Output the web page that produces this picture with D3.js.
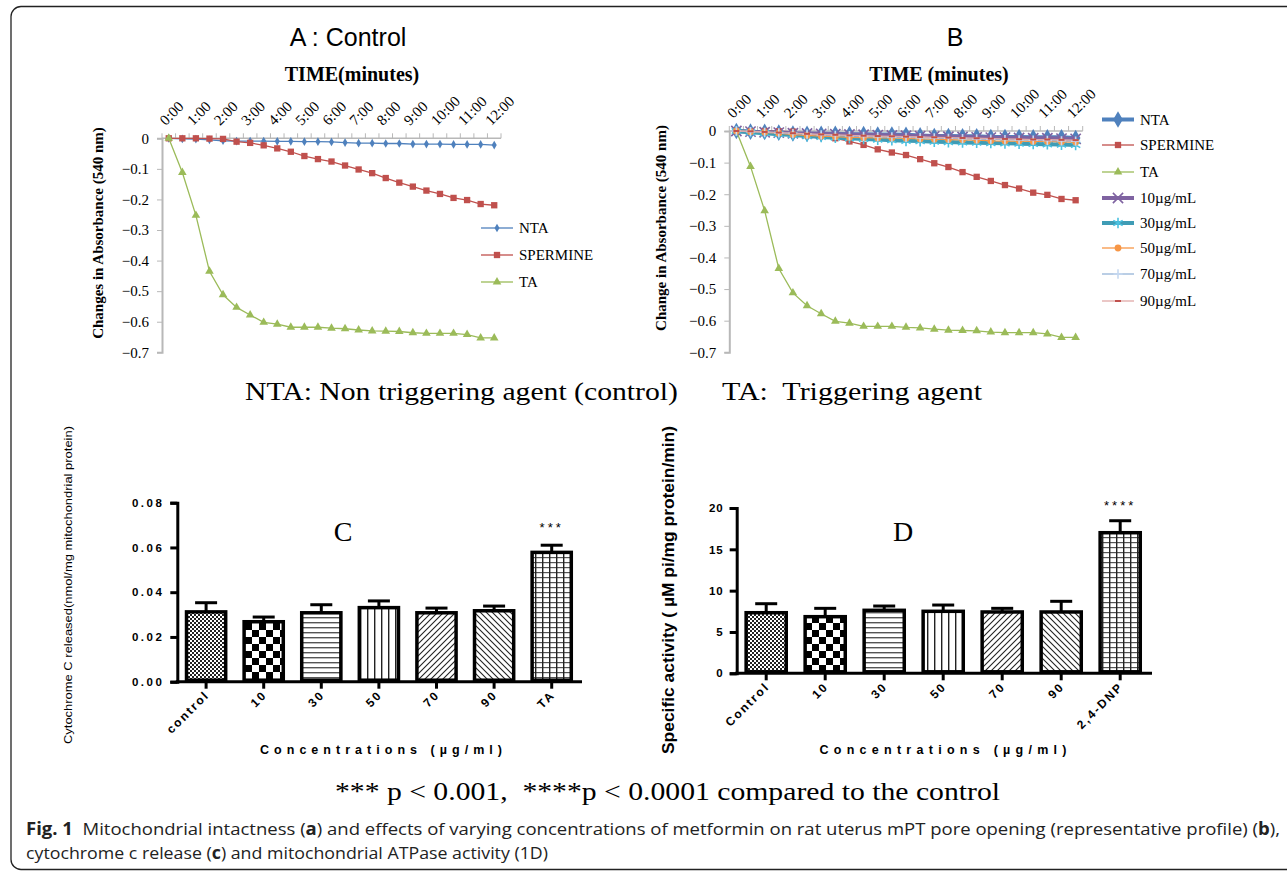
<!DOCTYPE html>
<html>
<head>
<meta charset="utf-8">
<script src="https://cdn.jsdelivr.net/npm/d3@7"></script>
<style>
  body { margin: 0; background: #fff; }
  text { white-space: pre; }
</style>
</head>
<body>
<div id="fig"></div>
<script>
// ---- data ----
var timePoints = ["0:00","0:30","1:00","1:30","2:00","2:30","3:00","3:30","4:00","4:30","5:00","5:30","6:00",
                  "6:30","7:00","7:30","8:00","8:30","9:00","9:30","10:00","10:30","11:00","11:30","12:00"];
var timeLabels = ["0:00","1:00","2:00","3:00","4:00","5:00","6:00","7:00","8:00","9:00","10:00","11:00","12:00"];
var absTicks = [0, -0.1, -0.2, -0.3, -0.4, -0.5, -0.6, -0.7];

var nta = [0,-0.002,-0.003,-0.005,-0.008,-0.009,-0.009,-0.009,-0.010,-0.010,-0.011,-0.011,-0.012,
           -0.014,-0.016,-0.016,-0.017,-0.017,-0.019,-0.019,-0.019,-0.020,-0.020,-0.020,-0.022];
var spermine = [0,0,0,-0.001,-0.002,-0.011,-0.015,-0.023,-0.033,-0.044,-0.058,-0.068,-0.076,
                -0.089,-0.102,-0.114,-0.130,-0.145,-0.158,-0.171,-0.182,-0.195,-0.202,-0.215,-0.219];
var ta = [0,-0.112,-0.252,-0.435,-0.512,-0.553,-0.578,-0.602,-0.608,-0.618,-0.618,-0.618,-0.621,
          -0.623,-0.627,-0.630,-0.631,-0.632,-0.636,-0.638,-0.638,-0.638,-0.642,-0.653,-0.653];
var conc10 = [0,-0.002,-0.004,-0.005,-0.007,-0.008,-0.009,-0.010,-0.011,-0.012,-0.013,-0.014,-0.015,
              -0.016,-0.017,-0.018,-0.019,-0.020,-0.021,-0.021,-0.022,-0.023,-0.023,-0.024,-0.025];
var conc30 = [0,-0.004,-0.007,-0.010,-0.013,-0.016,-0.019,-0.021,-0.023,-0.025,-0.027,-0.029,-0.031,
              -0.032,-0.034,-0.035,-0.036,-0.037,-0.038,-0.039,-0.040,-0.041,-0.042,-0.043,-0.044];
var conc50 = [0,-0.002,-0.004,-0.007,-0.011,-0.014,-0.016,-0.018,-0.020,-0.021,-0.022,-0.022,-0.023,
              -0.025,-0.026,-0.027,-0.028,-0.029,-0.031,-0.032,-0.032,-0.033,-0.033,-0.034,-0.035];
var conc70 = [0,-0.002,-0.004,-0.006,-0.008,-0.010,-0.012,-0.014,-0.015,-0.017,-0.018,-0.019,-0.020,
              -0.021,-0.022,-0.023,-0.024,-0.025,-0.026,-0.027,-0.028,-0.029,-0.030,-0.031,-0.032];
var conc90 = [0,-0.001,-0.003,-0.005,-0.007,-0.009,-0.011,-0.012,-0.014,-0.015,-0.016,-0.017,-0.018,
              -0.019,-0.020,-0.021,-0.022,-0.023,-0.024,-0.025,-0.026,-0.027,-0.027,-0.028,-0.029];

var cytoCats = ["control","10","30","50","70","90","TA"];
var cytoMean = [0.0312,0.0268,0.0308,0.0331,0.0308,0.0317,0.0578];
var cytoSem  = [0.0041,0.0021,0.0036,0.0030,0.0021,0.0021,0.0032];
var cytoTicks = [0, 0.02, 0.04, 0.06, 0.08];

var atpCats = ["Control","10","30","50","70","90","2,4-DNP"];
var atpMean = [7.33,6.85,7.62,7.50,7.42,7.42,17.01];
var atpSem  = [1.09,1.01,0.52,0.76,0.44,1.29,1.45];
var atpTicks = [0, 5, 10, 15, 20];

var W = 1287, H = 874;
var serif = "'Liberation Serif','Times New Roman',serif";
var sans = "'Liberation Sans',Arial,sans-serif";

var svg = d3.select("#fig").append("svg")
    .attr("width", W)
    .attr("height", H)
    .style("display", "block");

// figure frame (rounded, runs off the right edge)
svg.append("rect")
    .attr("x", 11).attr("y", 6.5)
    .attr("width", 1300).attr("height", 863)
    .attr("rx", 10)
    .attr("fill", "none")
    .attr("stroke", "#222")
    .attr("stroke-width", 1.3);

// ---- patterns for the bar charts ----
var defs = svg.append("defs");
function pat(id, w, h) {
    return defs.append("pattern").attr("id", id)
        .attr("patternUnits", "userSpaceOnUse")
        .attr("width", w).attr("height", h);
}
var p;
p = pat("pFine", 4, 4);
p.append("rect").attr("width", 4).attr("height", 4).attr("fill", "#fff");
p.append("rect").attr("width", 2).attr("height", 2).attr("fill", "#222");
p.append("rect").attr("x", 2).attr("y", 2).attr("width", 2).attr("height", 2).attr("fill", "#222");

p = pat("pChecker", 14, 14);
p.append("rect").attr("width", 14).attr("height", 14).attr("fill", "#fff");
p.append("rect").attr("width", 7).attr("height", 7).attr("fill", "#000");
p.append("rect").attr("x", 7).attr("y", 7).attr("width", 7).attr("height", 7).attr("fill", "#000");

p = pat("pHoriz", 6, 5);
p.append("rect").attr("width", 6).attr("height", 5).attr("fill", "#fff");
p.append("rect").attr("y", 2).attr("width", 6).attr("height", 1.4).attr("fill", "#555");

p = pat("pVert", 7, 6);
p.append("rect").attr("width", 7).attr("height", 6).attr("fill", "#fff");
p.append("rect").attr("x", 3).attr("width", 1.4).attr("height", 6).attr("fill", "#222");

p = pat("pDiagUp", 6, 6);
p.append("rect").attr("width", 6).attr("height", 6).attr("fill", "#fff");
p.append("path").attr("d", "M-1,7 L7,-1 M-1,1 L1,-1 M5,7 L7,5").attr("stroke", "#222").attr("stroke-width", 1.1);

p = pat("pDiagDown", 6, 6);
p.append("rect").attr("width", 6).attr("height", 6).attr("fill", "#fff");
p.append("path").attr("d", "M-1,-1 L7,7 M5,-1 L7,1 M-1,5 L1,7").attr("stroke", "#222").attr("stroke-width", 1.1);

p = pat("pGrid", 7, 5);
p.append("rect").attr("width", 7).attr("height", 5).attr("fill", "#fff");
p.append("rect").attr("y", 2).attr("width", 7).attr("height", 1.2).attr("fill", "#555");
p.append("rect").attr("x", 3).attr("width", 1.4).attr("height", 5).attr("fill", "#222");

var barPatterns = ["pFine","pChecker","pHoriz","pVert","pDiagUp","pDiagDown","pGrid"];

// ---- marker helpers ----
function markerPath(kind, size) {
    var type = {
        diamond: d3.symbolDiamond,
        square: d3.symbolSquare,
        triangle: d3.symbolTriangle,
        circle: d3.symbolCircle,
        times: d3.symbolTimes || d3.symbolX || d3.symbolCross,
        asterisk: d3.symbolAsterisk || d3.symbolCross,
        plus: d3.symbolPlus || d3.symbolCross
    }[kind];
    return d3.symbol().type(type).size(size)();
}
var strokeMarkers = { times: true, asterisk: true, plus: true };

function drawMarker(g, s, x, y) {
    if (s.marker === "dash") {
        g.append("line")
            .attr("x1", x - 3).attr("x2", x + 3)
            .attr("y1", y).attr("y2", y)
            .attr("stroke", s.markerColor || s.color).attr("stroke-width", 2);
        return;
    }
    var m = g.append("path")
        .attr("d", markerPath(s.marker, s.size))
        .attr("transform", "translate(" + x + "," + y + ")");
    if (strokeMarkers[s.marker]) {
        m.attr("fill", "none").attr("stroke", s.markerColor || s.color).attr("stroke-width", 1.6);
    } else {
        m.attr("fill", s.markerColor || s.color);
    }
}

// ---- line chart (panels A and B) ----
function lineChart(o) {
    var g = svg.append("g");
    var x = d3.scaleBand().domain(timePoints).range([o.left, o.right]);
    var y = d3.scaleLinear().domain([-0.7, 0]).range([o.bottom, o.top]);

    // y axis
    var yAxis = g.append("g")
        .attr("transform", "translate(" + o.left + ",0)")
        .call(d3.axisLeft(y).tickValues(absTicks).tickSize(5).tickPadding(8)
            .tickFormat(function (d) { return d === 0 ? "0" : d3.format(".1f")(d); }));
    yAxis.select(".domain").attr("stroke", "#b8b8b8").attr("stroke-width", 2);
    yAxis.selectAll(".tick line").attr("stroke", "#b8b8b8");
    yAxis.selectAll("text").attr("font-family", serif).attr("font-size", 15).attr("fill", "#000");

    // x axis along y = 0, ticks between categories
    var yz = y(0);
    g.append("line")
        .attr("x1", o.left).attr("x2", o.right)
        .attr("y1", yz).attr("y2", yz)
        .attr("stroke", "#b8b8b8").attr("stroke-width", 1.5);
    g.selectAll(".xt").data(d3.range(timePoints.length + 1)).enter().append("line")
        .attr("x1", function (i) { return o.left + i * x.step(); })
        .attr("x2", function (i) { return o.left + i * x.step(); })
        .attr("y1", yz).attr("y2", yz - 5)
        .attr("stroke", "#b8b8b8");
    g.selectAll(".xl").data(timeLabels).enter().append("text")
        .attr("transform", function (d) {
            return "translate(" + (x(d) + x.bandwidth() / 2 - 3) + "," + (yz - 12) + ") rotate(-45)";
        })
        .attr("font-family", serif).attr("font-size", 15)
        .text(function (d) { return d; });

    // series
    var line = d3.line()
        .x(function (d, i) { return x(timePoints[i]) + x.bandwidth() / 2; })
        .y(function (d) { return y(d); });
    o.series.forEach(function (s) {
        g.append("path")
            .attr("d", line(s.values))
            .attr("fill", "none")
            .attr("stroke", s.color)
            .attr("stroke-width", s.width);
        var mg = g.append("g");
        s.values.forEach(function (v, i) {
            drawMarker(mg, s, x(timePoints[i]) + x.bandwidth() / 2, y(v));
        });
    });

    // legend
    o.series.forEach(function (s, i) {
        var ly = o.legendY[i];
        g.append("line")
            .attr("x1", o.legendX).attr("x2", o.legendX + 32)
            .attr("y1", ly).attr("y2", ly)
            .attr("stroke", s.color).attr("stroke-width", s.width);
        drawMarker(g, s, o.legendX + 16, ly);
        g.append("text")
            .attr("x", o.legendX + 38).attr("y", ly + 5)
            .attr("font-family", serif).attr("font-size", 15)
            .text(s.name);
    });

    // titles
    g.append("text")
        .attr("x", o.titleX).attr("y", 46)
        .attr("text-anchor", "middle")
        .attr("font-family", sans).attr("font-size", 25)
        .text(o.title);
    g.append("text")
        .attr("x", o.timeX).attr("y", 81)
        .attr("text-anchor", "middle")
        .attr("font-family", serif).attr("font-size", 20).attr("font-weight", "bold")
        .text(o.timeTitle);
    g.append("text")
        .attr("transform", "translate(" + o.yLabelX + "," + o.yLabelY + ") rotate(-90)")
        .attr("text-anchor", "middle")
        .attr("font-family", serif).attr("font-size", 15).attr("font-weight", "bold")
        .text(o.yLabel);
}

lineChart({
    left: 162, right: 501, top: 138.3, bottom: 352.3,
    title: "A : Control", titleX: 348,
    timeTitle: "TIME(minutes)", timeX: 352,
    yLabel: "Changes in Absorbance (540 nm)", yLabelX: 103, yLabelY: 233,
    legendX: 481, legendY: [228, 255, 282],
    series: [
        { name: "NTA", values: nta, color: "#4f81bd", width: 1.3, marker: "diamond", size: 22 },
        { name: "SPERMINE", values: spermine, color: "#c0504d", width: 1.3, marker: "square", size: 40 },
        { name: "TA", values: ta, color: "#9bbb59", width: 1.3, marker: "triangle", size: 32 }
    ]
});

lineChart({
    left: 729.3, right: 1082.7, top: 131, bottom: 352.3,
    title: "B", titleX: 955,
    timeTitle: "TIME (minutes)", timeX: 939,
    yLabel: "Change in Absorbance (540 nm)", yLabelX: 666, yLabelY: 228,
    legendX: 1102, legendY: [119.5, 145, 172, 198, 223, 248, 274, 301],
    series: [
        { name: "NTA", values: nta, color: "#4f81bd", width: 4, marker: "diamond", size: 80 },
        { name: "SPERMINE", values: spermine, color: "#c0504d", width: 1.3, marker: "square", size: 40 },
        { name: "TA", values: ta, color: "#9bbb59", width: 1.3, marker: "triangle", size: 32 },
        { name: "10\u00b5g/mL", values: conc10, color: "#7f63a1", width: 4, marker: "times", size: 70 },
        { name: "30\u00b5g/mL", values: conc30, color: "#3f9cb5", width: 4, marker: "asterisk", size: 80, markerColor: "#4bc1e0" },
        { name: "50\u00b5g/mL", values: conc50, color: "#f79646", width: 1.3, marker: "circle", size: 36 },
        { name: "70\u00b5g/mL", values: conc70, color: "#95b3d7", width: 1.3, marker: "plus", size: 30, markerColor: "#c6d9f1" },
        { name: "90\u00b5g/mL", values: conc90, color: "#e0a9a8", width: 1.3, marker: "dash", size: 10, markerColor: "#c0504d" }
    ]
});

// middle notes
svg.append("text")
    .attr("x", 245).attr("y", 400)
    .attr("font-family", serif).attr("font-size", 26)
    .attr("textLength", 433).attr("lengthAdjust", "spacingAndGlyphs")
    .text("NTA: Non triggering agent (control)");
svg.append("text")
    .attr("x", 722).attr("y", 400)
    .attr("font-family", serif).attr("font-size", 26)
    .attr("textLength", 260).attr("lengthAdjust", "spacingAndGlyphs")
    .text("TA:\u00a0 Triggering agent");

// ---- bar chart (panels C and D) ----
function barChart(o) {
    var g = svg.append("g");
    var x = d3.scaleBand().domain(o.cats).range([o.left, o.right])
        .paddingInner(0.32).paddingOuter(0.16);
    var y = d3.scaleLinear().domain([0, o.max]).range([o.bottom, o.top]);

    var yAxis = g.append("g")
        .attr("transform", "translate(" + o.left + ",0)")
        .call(d3.axisLeft(y).tickValues(o.ticks).tickSize(7).tickPadding(6).tickFormat(o.fmt));
    yAxis.select(".domain").attr("stroke", "#000").attr("stroke-width", 3);
    yAxis.selectAll(".tick line").attr("stroke", "#000").attr("stroke-width", 3);
    yAxis.selectAll("text")
        .attr("font-family", sans).attr("font-size", 11.5).attr("font-weight", "bold")
        .attr("letter-spacing", o.tickSpacing).attr("fill", "#000");

    var xAxis = g.append("g")
        .attr("transform", "translate(0," + o.bottom + ")")
        .call(d3.axisBottom(x).tickSize(7).tickSizeOuter(0).tickFormat(""));
    xAxis.select(".domain").attr("stroke", "#000").attr("stroke-width", 3)
        .attr("d", "M" + (o.left - 1.5) + ",0H" + o.axisEnd);
    xAxis.selectAll(".tick line").attr("stroke", "#000").attr("stroke-width", 3);

    g.selectAll(".xl").data(o.cats).enter().append("text")
        .attr("transform", function (d) {
            return "translate(" + (x(d) + x.bandwidth() / 2 + 4) + "," + (o.bottom + 14) + ") rotate(-45)";
        })
        .attr("text-anchor", "end")
        .attr("font-family", sans).attr("font-size", 12).attr("font-weight", "bold")
        .attr("letter-spacing", 2)
        .text(function (d) { return d; });

    // bars
    g.selectAll(".bar").data(o.means).enter().append("rect")
        .attr("x", function (d, i) { return x(o.cats[i]); })
        .attr("y", function (d) { return y(d); })
        .attr("width", x.bandwidth())
        .attr("height", function (d) { return o.bottom - y(d) - 1.5; })
        .attr("fill", function (d, i) { return "url(#" + barPatterns[i] + ")"; })
        .attr("stroke", "#000")
        .attr("stroke-width", 3.5);

    // upper error bars
    o.means.forEach(function (m, i) {
        var cx = x(o.cats[i]) + x.bandwidth() / 2;
        g.append("line")
            .attr("x1", cx).attr("x2", cx)
            .attr("y1", y(m)).attr("y2", y(m + o.sems[i]))
            .attr("stroke", "#000").attr("stroke-width", 3);
        g.append("line")
            .attr("x1", cx - 11).attr("x2", cx + 11)
            .attr("y1", y(m + o.sems[i])).attr("y2", y(m + o.sems[i]))
            .attr("stroke", "#000").attr("stroke-width", 3);
    });

    // significance stars on last bar
    var last = o.cats[o.cats.length - 1];
    g.append("text")
        .attr("x", x(last) + x.bandwidth() / 2).attr("y", o.starY)
        .attr("text-anchor", "middle")
        .attr("font-family", sans).attr("font-size", 13)
        .attr("letter-spacing", 3)
        .text(o.stars);

    g.append("text")
        .attr("x", o.letterX).attr("y", 541)
        .attr("text-anchor", "middle")
        .attr("font-family", serif).attr("font-size", 28)
        .text(o.letter);

    g.append("text")
        .attr("x", o.xTitleX).attr("y", 754)
        .attr("text-anchor", "middle")
        .attr("font-family", sans).attr("font-size", 12.5).attr("font-weight", "bold")
        .attr("textLength", o.xTitleLen).attr("lengthAdjust", "spacing")
        .text("Concentrations (\u00b5g/ml)");

    g.append("text")
        .attr("transform", "translate(" + o.yLabelX + "," + o.yLabelY + ") rotate(-90)")
        .attr("text-anchor", "middle")
        .attr("font-family", sans).attr("font-size", o.yLabelSize).attr("font-weight", o.yLabelWeight)
        .attr("textLength", o.yLabelLen).attr("lengthAdjust", "spacingAndGlyphs")
        .text(o.yLabel);
}

barChart({
    cats: cytoCats, means: cytoMean, sems: cytoSem, ticks: cytoTicks, max: 0.08,
    fmt: d3.format(".2f"), tickSpacing: 2.5,
    left: 177.3, right: 580.5, axisEnd: 582, top: 502.7, bottom: 681.7,
    stars: "***", starY: 532, letter: "C", letterX: 343,
    xTitleX: 381, xTitleLen: 242,
    yLabel: "Cytochrome C released(nmol/mg mitochondrial protein)",
    yLabelX: 72, yLabelY: 585, yLabelSize: 11, yLabelWeight: "normal", yLabelLen: 318
});

barChart({
    cats: atpCats, means: atpMean, sems: atpSem, ticks: atpTicks, max: 20,
    fmt: d3.format("d"), tickSpacing: 1,
    left: 736.7, right: 1149.7, axisEnd: 1152, top: 508, bottom: 673.3,
    stars: "****", starY: 510, letter: "D", letterX: 903,
    xTitleX: 943, xTitleLen: 247,
    yLabel: "Specific activity ( \u00b5M pi/mg protein/min)",
    yLabelX: 674, yLabelY: 590, yLabelSize: 17, yLabelWeight: "bold", yLabelLen: 328
});

// significance note
svg.append("text")
    .attr("x", 335).attr("y", 800)
    .attr("font-family", serif).attr("font-size", 26)
    .attr("textLength", 665).attr("lengthAdjust", "spacingAndGlyphs")
    .text("*** p < 0.001,\u00a0 ****p < 0.0001 compared to the control");

// caption
var cap1 = svg.append("text")
    .attr("x", 26).attr("y", 835)
    .attr("font-family", "'Open Sans',sans-serif").attr("font-size", 17).attr("fill", "#222")
    .attr("textLength", 1254).attr("lengthAdjust", "spacingAndGlyphs");
cap1.append("tspan").attr("font-weight", "bold").text("Fig. 1");
cap1.append("tspan").text("\u00a0 Mitochondrial intactness (");
cap1.append("tspan").attr("font-weight", "bold").text("a");
cap1.append("tspan").text(") and effects of varying concentrations of metformin on rat uterus mPT pore opening (representative profile) (");
cap1.append("tspan").attr("font-weight", "bold").text("b");
cap1.append("tspan").text("),");

var cap2 = svg.append("text")
    .attr("x", 26).attr("y", 859)
    .attr("font-family", "'Open Sans',sans-serif").attr("font-size", 17).attr("fill", "#222")
    .attr("textLength", 522).attr("lengthAdjust", "spacingAndGlyphs");
cap2.append("tspan").text("cytochrome c release (");
cap2.append("tspan").attr("font-weight", "bold").text("c");
cap2.append("tspan").text(") and mitochondrial ATPase activity (1D)");
</script>
</body>
</html>
